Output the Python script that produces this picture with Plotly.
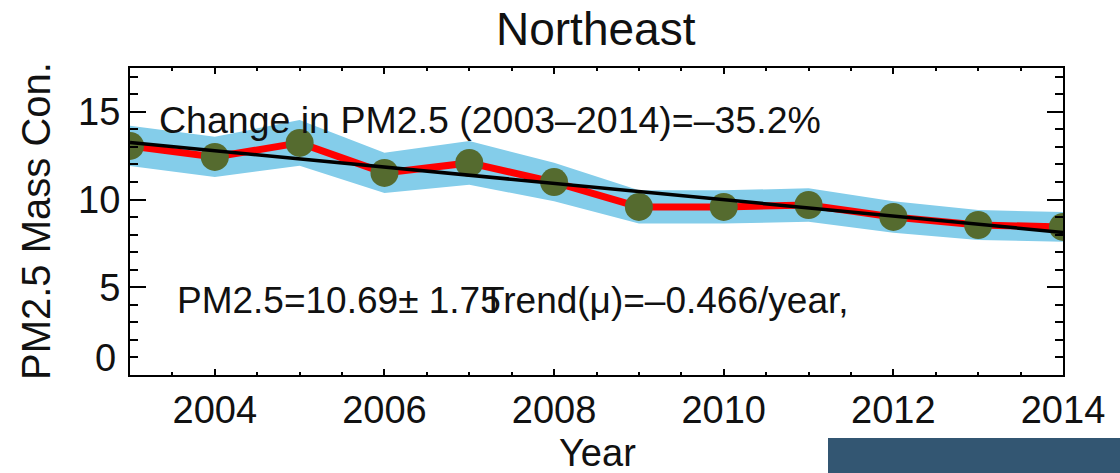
import plotly.graph_objects as go

# Annual mean PM2.5 mass concentration, Northeast region
years = [2003, 2004, 2005, 2006, 2007, 2008, 2009, 2010, 2011, 2012, 2013, 2014]
pm25 = [13.06, 12.43, 13.23, 11.52, 12.09, 11.00, 9.58, 9.58, 9.69, 9.01, 8.55, 8.44]
pm25_err = [1.15, 1.15, 1.30, 1.15, 1.25, 1.10, 0.95, 0.95, 0.95, 0.90, 0.85, 0.85]

mean_pm25 = 10.69
std_pm25 = 1.75
trend_slope = -0.466
pct_change = -35.2

y_tickvals = [0, 5, 10, 15]
y_ticktext = ["", "5", "10", "15"]
x_tickvals = [2004, 2006, 2008, 2010, 2012, 2014]

FONT = "Liberation Sans, Arial, Helvetica, sans-serif"
INK = "#111111"

lower = [v - e for v, e in zip(pm25, pm25_err)]
upper = [v + e for v, e in zip(pm25, pm25_err)]

# linear trend centred on the period mean
mid = (years[0] + years[-1]) / 2
trend = [mean_pm25 + trend_slope * (y - mid) for y in years]

fig = go.Figure()

fig.add_trace(go.Scatter(x=years, y=lower, mode="lines", line=dict(width=0, color="#84cdea"),
                         showlegend=False, hoverinfo="skip"))
fig.add_trace(go.Scatter(x=years, y=upper, mode="lines", line=dict(width=0, color="#84cdea"),
                         fill="tonexty", fillcolor="#84cdea", showlegend=False, hoverinfo="skip"))
fig.add_trace(go.Scatter(x=years, y=pm25, mode="lines", line=dict(color="#ff0000", width=7),
                         showlegend=False))
fig.add_trace(go.Scatter(x=years, y=pm25, mode="markers",
                         marker=dict(color="#556b2f", size=28, line=dict(width=0)),
                         showlegend=False))
fig.add_trace(go.Scatter(x=years, y=trend, mode="lines", line=dict(color="#000000", width=3.5),
                         showlegend=False))

axis_common = dict(
    showline=True, linecolor="#000000", linewidth=2, mirror="allticks",
    ticks="inside", tickcolor="#000000", tickwidth=2,
    showgrid=False, zeroline=False,
    tickfont=dict(family=FONT, size=38, color=INK),
)

fig.update_xaxes(range=[2003, 2014], tickvals=x_tickvals, ticklen=6,
                 minor=dict(dtick=0.5, tick0=2003, ticklen=3, tickwidth=2, tickcolor="#000000", ticks="inside"),
                 **axis_common)
fig.update_yaxes(range=[0, 17.5], tickvals=y_tickvals, ticktext=y_ticktext, ticklen=16,
                 minor=dict(dtick=1, tick0=0, ticklen=8, tickwidth=2, tickcolor="#000000", ticks="inside"),
                 **axis_common)

W, H = 1120, 473
L, R, T, B = 130, 57, 68, 98
pw, ph = W - L - R, H - T - B


def px(x):
    return (x - L) / pw


def py(y):
    return (H - B - y) / ph


annotations = [
    dict(text="Northeast", x=px(596), y=py(29), font=dict(size=46)),
    dict(text="Year", x=px(597), y=py(453), font=dict(size=38)),
    dict(text="PM2.5 Mass Con.", x=px(36), y=py(221), textangle=-90, font=dict(size=40)),
    dict(text="0", x=px(118), y=py(358), xanchor="right", font=dict(size=38)),
    dict(text=f"Change in PM2.5 ({years[0]}\u2013{years[-1]})=\u2013{abs(pct_change):.1f}%",
         x=px(157), y=py(120), xanchor="left", font=dict(size=37.5)),
    dict(text=f"PM2.5={mean_pm25:.2f}\u00b1 {std_pm25:.2f}",
         x=px(175), y=py(300), xanchor="left", font=dict(size=37)),
    dict(text=f"Trend(\u03bc)=\u2013{abs(trend_slope):.3f}/year,",
         x=px(480), y=py(300), xanchor="left", font=dict(size=37)),
]
for a in annotations:
    a.setdefault("xref", "paper")
    a.setdefault("yref", "paper")
    a.setdefault("showarrow", False)
    a.setdefault("xanchor", "center")
    a.setdefault("yanchor", "middle")
    a["font"] = dict(family=FONT, color=INK, **a["font"])

fig.update_layout(
    width=W, height=H,
    margin=dict(l=L, r=R, t=T, b=B),
    plot_bgcolor="white", paper_bgcolor="white",
    annotations=annotations,
    shapes=[dict(type="rect", xref="paper", yref="paper",
                 x0=px(828), x1=px(1125), y0=py(478), y1=py(438),
                 fillcolor="#335672", line=dict(width=0), layer="above")],
    showlegend=False,
)

fig.write_html("out.html")
